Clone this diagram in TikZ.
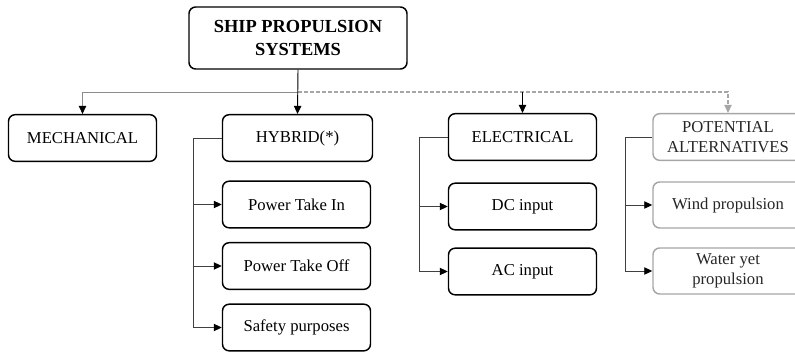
\documentclass[tikz,border=0pt]{standalone}
\usepackage{fontspec}
\setmainfont{Liberation Serif}
\usetikzlibrary{arrows.meta}
\tikzset{
  box/.style={draw, line width=1.1pt, rounded corners=5pt, align=center,
    minimum width=#1, minimum height=35pt, inner sep=0pt,
    font=\fontsize{12.5}{15}\selectfont},
  box/.default=111pt,
  altbox/.style={box=112.5pt, draw=black!35, text=black!85},
  tip/.style={-{Triangle[length=6pt,width=5.5pt,color=black]}},
  link/.style={line width=0.7pt, draw=black!75, tip},
  bus/.style={line width=0.7pt, draw=black!45},
  altlink/.style={line width=0.8pt, draw=black!35, dash pattern=on 3pt off 1.5pt,
    -{Triangle[length=6pt,width=5.5pt,color=black!35]}}
}
\begin{document}
\begin{tikzpicture}[x=0.75pt, y=-0.75pt]
\useasboundingbox (0,0) rectangle (795,353);
\clip (0,0) rectangle (795,353);

% root
\node[box=163.5pt, minimum height=46.5pt, font=\fontsize{13.8}{17}\selectfont\bfseries]
  (root) at (298,38) {SHIP PROPULSION\\SYSTEMS};

% main branches
\node[box] (mech) at (82.5,138) {MECHANICAL};
\node[box=112.5pt] (hyb) at (297.5,138) {HYBRID(*)};
\node[box] (elec) at (522.5,137) {ELECTRICAL};
\node[altbox] (pot) at (728,137) {POTENTIAL\\ALTERNATIVES};

% hybrid children
\node[box] (pti) at (296.5,204.5) {Power Take In};
\node[box] (pto) at (296.5,266) {Power Take Off};
\node[box] (safe) at (296.5,327.5) {Safety purposes};

% electrical children
\node[box] (dc) at (522.5,206.5) {DC input};
\node[box] (ac) at (522.5,271.5) {AC input};

% alternative children
\node[altbox, minimum height=34.5pt] (wind) at (728,205) {Wind propulsion};
\node[altbox, minimum height=34.5pt] (water) at (728,271) {Water yet\\propulsion};

% distribution bus
\coordinate (busA) at (298,92);
\draw[bus] (busA) -| (mech.north);
\draw[bus, tip] (busA -| mech.north) -- (mech.north);
\draw[altlink] (busA) -| (pot.north);
\draw[link, draw=black] (root.south) -- (hyb.north);
\draw[link, draw=black] (busA -| elec.north) -- (elec.north);

% hybrid trunk
\draw[link] (hyb.west) -- ++(-28,0) |- (pti.west);
\draw[link] (hyb.west) -- ++(-28,0) |- (pto.west);
\draw[link] (hyb.west) -- ++(-28,0) |- (safe.west);

% electrical trunk
\draw[link] (elec.west) -- ++(-28,0) |- (dc.west);
\draw[link] (elec.west) -- ++(-28,0) |- (ac.west);

% alternatives trunk
\draw[link] (pot.west) -- ++(-27,0) |- (wind.west);
\draw[link] (pot.west) -- ++(-27,0) |- (water.west);
\end{tikzpicture}
\end{document}
